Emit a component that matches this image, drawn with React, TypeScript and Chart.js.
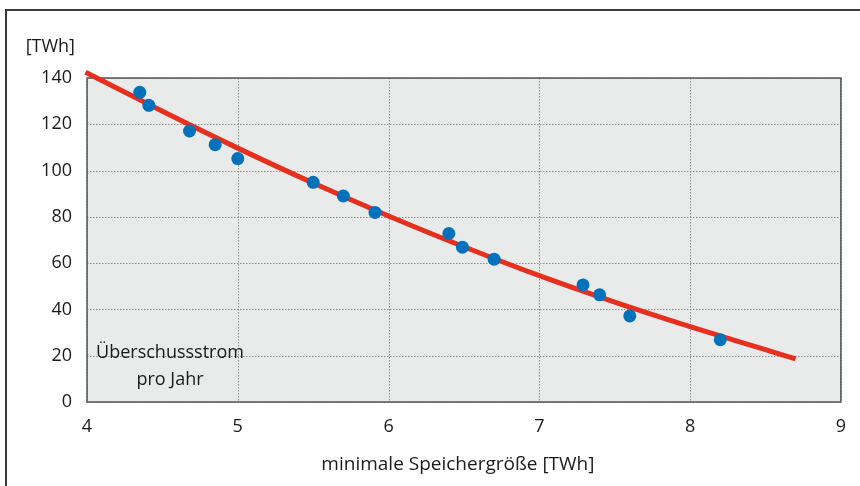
import React, { useEffect, useRef } from "react";
import { Chart, registerables } from "chart.js";

Chart.register(...registerables);

// Measured points (minimal storage size [TWh] vs. surplus power per year [TWh])
const pointX = [4.35, 4.41, 4.68, 4.85, 5.0, 5.5, 5.7, 5.91, 6.4, 6.49, 6.7, 7.29, 7.4, 7.6, 8.2];
const pointY = [133.8, 128.2, 117.1, 111.2, 105.2, 94.9, 89.0, 81.9, 72.8, 66.9, 61.7, 50.6, 46.3, 37.2, 26.9];

// Fitted curve
const curveX = [3.99, 4.5, 5.0, 5.5, 6.0, 6.5, 7.0, 7.5, 8.0, 8.5, 8.7];
const curveY = [142.5, 125.6, 109.7, 94.6, 80.4, 67.1, 54.6, 43.2, 32.6, 22.6, 18.6];

const xTicks = [4, 5, 6, 7, 8, 9];
const yTicks = [0, 20, 40, 60, 80, 100, 120, 140];

const xTitle = "minimale Speichergröße [TWh]";
const yUnit = "[TWh]";
const noteLines = ["Überschussstrom", "pro Jahr"];

const FONT = "'Open Sans', 'DejaVu Sans', sans-serif";

const panelPlugin = {
  id: "panel",
  beforeDraw(chart: any) {
    const { ctx, chartArea } = chart;
    ctx.save();
    ctx.fillStyle = "#E9EAEA";
    ctx.fillRect(chartArea.left, chartArea.top, chartArea.right - chartArea.left, chartArea.bottom - chartArea.top);
    ctx.restore();
  },
  beforeDatasetsDraw(chart: any) {
    const { ctx, chartArea, scales } = chart;
    ctx.save();
    // dotted grid
    ctx.strokeStyle = "#8c8c8c";
    ctx.lineWidth = 1;
    ctx.setLineDash([1.5, 1.5]);
    for (const v of xTicks) {
      const px = Math.round(scales.x.getPixelForValue(v)) + 0.5;
      ctx.beginPath();
      ctx.moveTo(px, chartArea.top);
      ctx.lineTo(px, chartArea.bottom);
      ctx.stroke();
    }
    for (const v of yTicks) {
      const py = Math.round(scales.y.getPixelForValue(v)) + 0.5;
      ctx.beginPath();
      ctx.moveTo(chartArea.left, py);
      ctx.lineTo(chartArea.right, py);
      ctx.stroke();
    }
    ctx.setLineDash([]);
    ctx.strokeStyle = "#555";
    ctx.lineWidth = 1.5;
    ctx.strokeRect(chartArea.left, chartArea.top, chartArea.right - chartArea.left, chartArea.bottom - chartArea.top);
    // labels
    ctx.fillStyle = "#1a1a1a";
    ctx.font = `18px ${FONT}`;
    ctx.textAlign = "right";
    ctx.textBaseline = "middle";
    ctx.fillText(yUnit, chartArea.left - 12, chartArea.top - 31);
    ctx.textAlign = "center";
    const cx = chartArea.left + 83;
    ctx.fillText(noteLines[0], cx, chartArea.bottom - 49);
    ctx.fillText(noteLines[1], cx, chartArea.bottom - 22);
    // x axis title
    ctx.font = `19px ${FONT}`;
    ctx.fillText(xTitle, (chartArea.left + chartArea.right) / 2 - 6, chartArea.bottom + 63);
    ctx.restore();
  },
};

export default function App() {
  const ref = useRef<HTMLCanvasElement | null>(null);

  useEffect(() => {
    if (!ref.current) return;
    const chart = new Chart(ref.current, {
      type: "scatter",
      data: {
        datasets: [
          {
            label: "Messpunkte",
            data: pointX.map((x, i) => ({ x, y: pointY[i] })),
            backgroundColor: "#0072BC",
            borderColor: "#0072BC",
            pointRadius: 6.5,
            pointBorderWidth: 0,
            order: 0,
          },
          {
            label: "Trend",
            data: curveX.map((x, i) => ({ x, y: curveY[i] })),
            showLine: true,
            borderColor: "#E5301F",
            borderWidth: 5,
            pointRadius: 0,
            cubicInterpolationMode: "monotone",
            clip: false,
            order: 1,
          } as any,
        ],
      },
      options: {
        animation: false,
        responsive: false,
        maintainAspectRatio: false,
        layout: { padding: { left: 0, top: 78, right: 16, bottom: 0 } },
        plugins: { legend: { display: false }, tooltip: { enabled: false } },
        scales: {
          x: {
            type: "linear",
            min: 4,
            max: 9,
            afterBuildTicks: (s: any) => {
              s.ticks = xTicks.map((v) => ({ value: v }));
            },
            afterFit: (s: any) => {
              s.height = 84;
            },
            grid: { display: false, drawTicks: false },
            border: { display: false },
            ticks: { color: "#1a1a1a", font: { family: FONT, size: 18 }, padding: 14, maxRotation: 0 },
          },
          y: {
            type: "linear",
            min: 0,
            max: 140,
            afterBuildTicks: (s: any) => {
              s.ticks = yTicks.map((v) => ({ value: v }));
            },
            afterFit: (s: any) => {
              s.width = 87;
            },
            grid: { display: false, drawTicks: false },
            border: { display: false },
            ticks: { color: "#1a1a1a", font: { family: FONT, size: 18 }, padding: 15 },
          },
        },
      },
      plugins: [panelPlugin],
    });
    return () => chart.destroy();
  }, []);

  return (
    <div style={{ position: "fixed", left: 0, top: 0, width: 860, height: 486, background: "#fff", overflow: "hidden" }}>
      <div
        style={{
          position: "absolute",
          left: 5,
          top: 9,
          right: -4,
          bottom: -4,
          borderLeft: "2px solid #3a3a3a",
          borderTop: "2px solid #3a3a3a",
        }}
      />
      <canvas ref={ref} width={860} height={486} style={{ position: "absolute", left: 0, top: 0, width: 860, height: 486 }} />
    </div>
  );
}
